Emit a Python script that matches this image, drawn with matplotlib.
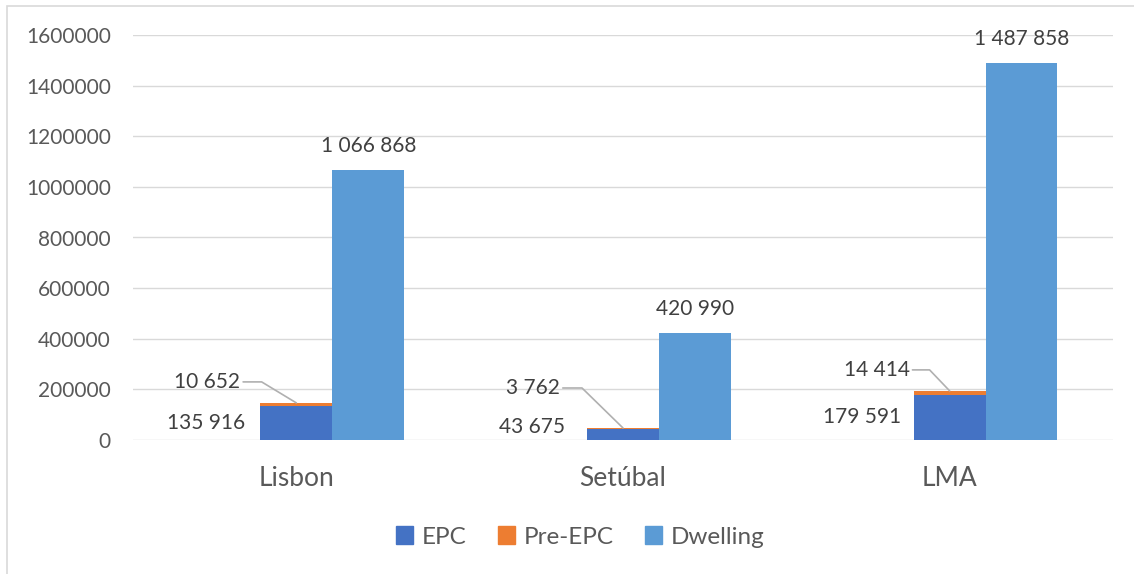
import matplotlib
matplotlib.use('Agg')
import matplotlib.pyplot as plt
import numpy as np
from matplotlib.patches import Rectangle, Patch

regions = ['Lisbon', 'Setúbal', 'LMA']
epc = [135916, 43675, 179591]
pre_epc = [10652, 3762, 14414]
dwelling = [1066868, 420990, 1487858]

y_ticks = [0, 200000, 400000, 600000, 800000, 1000000, 1200000, 1400000, 1600000]


def fmt(v):
    return f'{v:,}'.replace(',', ' ')


plt.rcParams['font.family'] = ['Lato', 'DejaVu Sans']

c_epc = '#4472C4'
c_pre = '#ED7D31'
c_dwell = '#5B9BD5'
txt = '#404040'
grid = '#d9d9d9'

W, H = 1134, 574
fig = plt.figure(figsize=(W / 100, H / 100), dpi=100)
ax = fig.add_axes([133 / W, 134 / H, (1113 - 133) / W, (539 - 134) / H])

x = np.arange(len(regions))
w = 0.22

ax.bar(x, epc, w, color=c_epc, label='EPC', zorder=3)
ax.bar(x, pre_epc, w, bottom=epc, color=c_pre, label='Pre-EPC', zorder=3)
ax.bar(x + w, dwelling, w, color=c_dwell, label='Dwelling', zorder=3)

ax.set_xlim(-0.5, 2.5)
ax.set_ylim(0, 1600000)
ax.set_yticks(y_ticks)
ax.set_yticklabels([str(t) for t in y_ticks])
ax.set_xticks(x)
ax.set_xticklabels(regions)
ax.tick_params(axis='y', length=0, pad=16, labelsize=15, labelcolor='#595959')
ax.tick_params(axis='x', length=0, pad=19, labelsize=19, labelcolor='#595959')
ax.grid(axis='y', color=grid, linewidth=1, zorder=0)
for s in ax.spines.values():
    s.set_visible(False)

# dwelling totals above the bars
for i, v in enumerate(dwelling):
    ax.annotate(fmt(v), (x[i] + w, v), xytext=(0, 24), textcoords='offset pixels',
                ha='center', va='center', fontsize=15, color=txt)

# EPC values to the left of the stacked bar
epc_off = [(-15, 0), (-22, 7), (-13, 0)]
for i, v in enumerate(epc):
    ax.annotate(fmt(v), (x[i] - w / 2, v / 2), xytext=epc_off[i], textcoords='offset pixels',
                ha='right', va='center', fontsize=15, color=txt)

# Pre-EPC values with leader lines
pre_off = [(-56, 21), (-63, 40), (-40, 21)]
pre_ang = [148.8, 135.7, 133.7]
for i, v in enumerate(pre_epc):
    ax.annotate(fmt(v), (x[i], epc[i] + v), xytext=pre_off[i], textcoords='offset pixels',
                ha='right', va='center', fontsize=15, color=txt,
                arrowprops=dict(arrowstyle='-', color='#b0b0b0', lw=1.2, shrinkA=0, shrinkB=0,
                                connectionstyle=f'angle,angleA=0,angleB={pre_ang[i]},rad=0'))

handles = [Patch(color=c_epc), Patch(color=c_pre), Patch(color=c_dwell)]
fig.legend(handles, ['EPC', 'Pre-EPC', 'Dwelling'], loc='center', bbox_to_anchor=(580 / W, 1 - 537 / H),
           ncol=3, frameon=False, fontsize=17.5, labelcolor='#595959', handlelength=0.7,
           handleheight=0.7, handletextpad=0.35, columnspacing=1.3)

# chart border
fig.patches.append(Rectangle((7 / W, -0.1), 1.2, 1.1 - 6 / H, transform=fig.transFigure,
                             fill=False, edgecolor=grid, linewidth=1.2))

fig.savefig('out.png', dpi=100)
